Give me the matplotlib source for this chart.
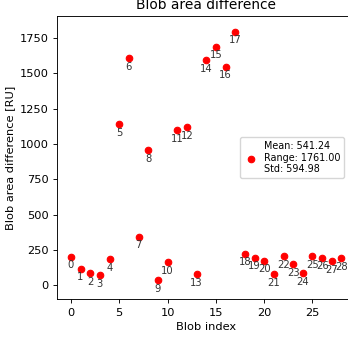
import matplotlib
matplotlib.use("Agg")
import matplotlib.pyplot as plt

# blob areas
blob_index = list(range(29))
area_diff = [200, 118, 83, 71, 182, 1140, 1607, 343, 957, 35,
             161, 1097, 1118, 78, 1594, 1688, 1547, 1796, 222, 196,
             172, 76, 206, 149, 83, 206, 196, 170, 191]
stats_label = "Mean: 541.24\nRange: 1761.00\nStd: 594.98"

fig = plt.figure(figsize=(3.48, 3.37), dpi=100)
# axes run past the right edge, the original picture is cropped there
ax = fig.add_axes([0.1647, 0.1119, 0.8555, 0.8398])

ax.scatter(blob_index, area_diff, c="red", s=22, linewidths=0.8,
           label=stats_label, zorder=3)
for i, v in zip(blob_index, area_diff):
    ax.annotate(str(i), (i, v), textcoords="offset points", xytext=(0, -2.5),
                ha="center", va="top", fontsize=7.2, color="#333333")

ax.set_xlim(-1.4, 29.4)
ax.set_ylim(-100, 1905)
ax.set_xticks([0, 5, 10, 15, 20, 25])
ax.set_yticks([0, 250, 500, 750, 1000, 1250, 1500, 1750])
ax.tick_params(labelsize=8.2, length=2.9, width=0.65)
for sp in ax.spines.values():
    sp.set_linewidth(0.65)
ax.set_xlabel("Blob index", fontsize=8.2, labelpad=3)
ax.set_ylabel("Blob area difference [RU]", fontsize=8.2, labelpad=3)
ax.set_title("Blob area difference", fontsize=9.9, pad=5)
ax.legend(loc="center right", bbox_to_anchor=(0.963, 0.501), borderaxespad=0,
          fontsize=6.9, handletextpad=0.5, borderpad=0.4, handlelength=1.6)

fig.savefig("out.png", dpi=100)
